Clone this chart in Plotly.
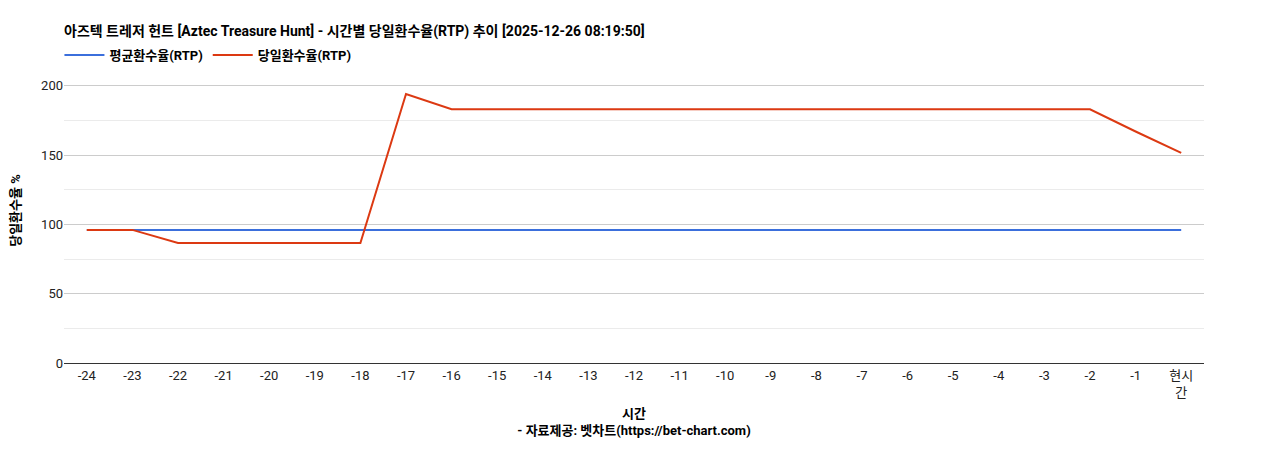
import plotly.graph_objects as go

hours = [str(h) for h in range(-24, 0)] + ["현시<br>간"]
avg_rtp = [96] * 25
day_rtp = [96, 96, 86.5, 86.5, 86.5, 86.5, 86.5, 194, 183, 183, 183, 183, 183,
           183, 183, 183, 183, 183, 183, 183, 183, 183, 183, 167, 151.5]

fig = go.Figure()
fig.add_trace(go.Scatter(x=hours, y=avg_rtp, mode="lines", name="<b>평균환수율(RTP)</b>",
                         line=dict(color="#3b6fdc", width=2)))
fig.add_trace(go.Scatter(x=hours, y=day_rtp, mode="lines", name="<b>당일환수율(RTP)</b>",
                         line=dict(color="#dc3912", width=2)))

# page body has an 8px margin, so the figure is placed at (8, 8)
fig.update_layout(
    width=1268, height=450,
    font=dict(family="Roboto, Noto Sans CJK KR, sans-serif", size=13, color="#222"),
    title=dict(text="<b>아즈텍 트레저 헌트 [Aztec Treasure Hunt] - 시간별 당일환수율(RTP) 추이 [2025-12-26 08:19:50]</b>",
               x=56 / 1268, xanchor="left", y=1 - 23 / 450, yanchor="middle",
               font=dict(size=14, color="#000")),
    legend=dict(orientation="h", x=-0.004, y=1.01, xanchor="left", yanchor="middle",
                font=dict(size=13, color="#000"), itemwidth=40),
    margin=dict(l=56, r=72, t=50, b=95, autoexpand=False),
    plot_bgcolor="white", paper_bgcolor="white",
    xaxis=dict(type="category", range=[-0.5, 24.5], showgrid=False, showline=True,
               automargin=False, linecolor="#333", ticks="", tickfont=dict(size=13, color="#222"),
               title=dict(text="<b>시간</b><br><b>- 자료제공: 벳차트(https://bet-chart.com)</b>",
                          font=dict(size=13, color="#000"), standoff=10)),
    yaxis=dict(range=[0, 220], tickvals=[0, 50, 100, 150, 200], gridcolor="#cccccc",
               automargin=False, zeroline=False, ticks="", tickfont=dict(size=13, color="#222"),
               minor=dict(tickvals=[25, 75, 125, 175], showgrid=True, gridcolor="#ebebeb"),
               title=dict(text="<b>당일환수율 %</b>", font=dict(size=13, color="#000"),
                          standoff=18)),
)
fig.write_html("out.html")
